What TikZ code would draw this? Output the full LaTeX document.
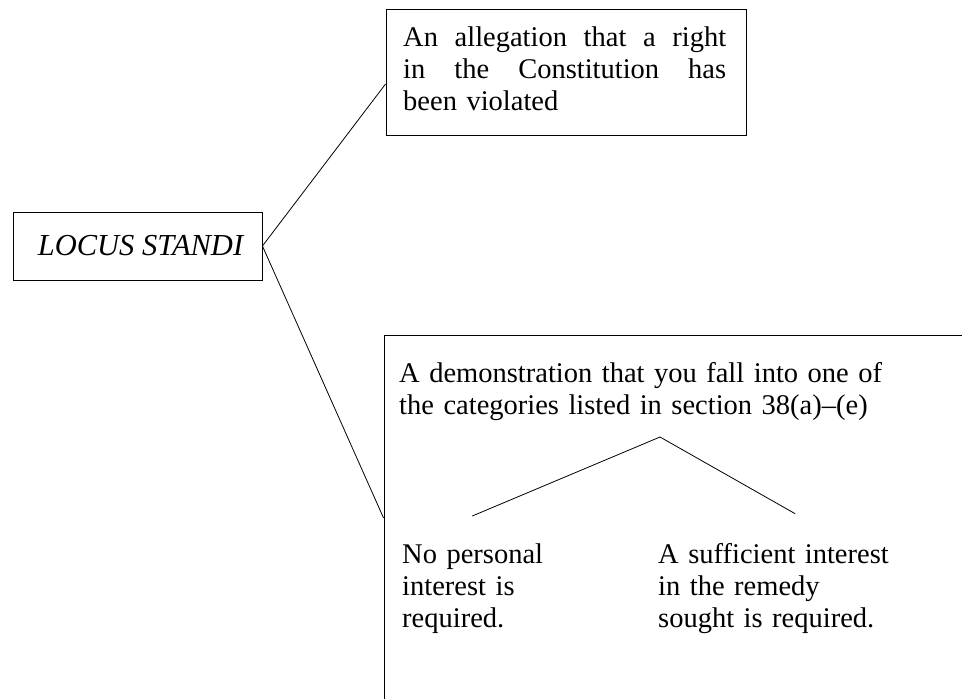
\documentclass[tikz,border=0pt]{standalone}
\usepackage{fontspec}
\setmainfont{Liberation Serif}
\tikzset{
  box/.style={draw, line width=0.9pt, rectangle, inner sep=0pt},
  txt/.style={inner sep=0pt, align=left, font=\fontsize{28.5}{32}\selectfont},
  link/.style={line width=0.8pt}
}
\begin{document}
\begin{tikzpicture}[x=1pt,y=-1pt]
\useasboundingbox (0,0) rectangle (962,699);
\fill[white] (0,0) rectangle (962,699);
\clip (0,0) rectangle (962,699);
\node[box, minimum width=249pt, minimum height=68pt, font=\fontsize{30.5}{36}\selectfont\itshape] (locus) at (137.5,246) {\hspace*{6pt}LOCUS STANDI};
\node[box, minimum width=360pt, minimum height=126pt] (top) at (566,72) {};
\node[txt, text width=330pt, anchor=base west] (toptext) at (403,46)
  {\makebox[323pt]{An\hfill allegation\hfill that\hfill a\hfill right}\\
   \makebox[323pt]{in\hfill the\hfill Constitution\hfill has}\\
   been violated};
\node[box, minimum width=616pt, minimum height=366pt] (demobox) at (692,518) {};
\node[txt, text width=520pt, anchor=base west] (demo) at (399,382)
  {A demonstration that you fall into one of\\the categories listed in section 38(a)--(e)};
\node[txt, text width=160pt, anchor=base west] (nop) at (402,563)
  {No personal\\interest is\\required.};
\node[txt, text width=260pt, anchor=base west] (suff) at (658,563)
  {A sufficient interest\\in the remedy\\sought is required.};
\coordinate (apex) at (660,437);
\draw[link] (locus.east) -- ([yshift=-12pt]top.west);
\draw[link] (locus.east) -- (demobox.west);
\draw[link] (apex) -- ([xshift=-10pt,yshift=27pt]nop.north);
\draw[link] (apex) -- ([xshift=7pt,yshift=29pt]suff.north);
\end{tikzpicture}
\end{document}
